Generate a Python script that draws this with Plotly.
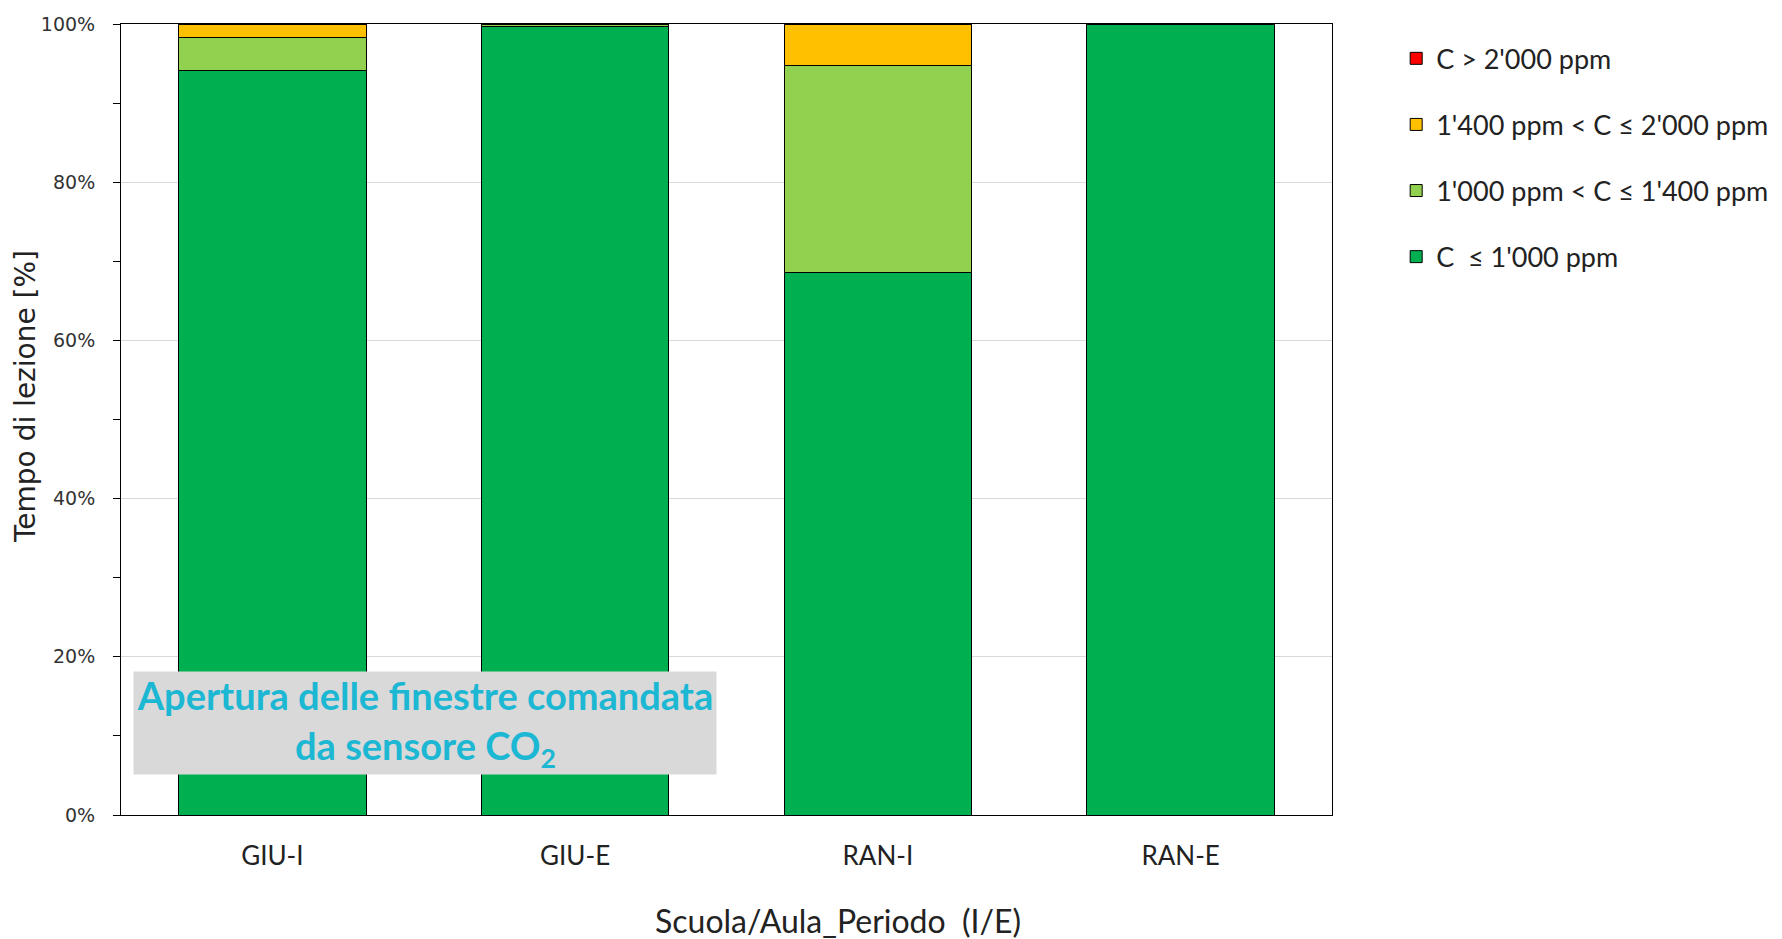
import plotly.graph_objects as go

# Share of lesson time in each CO2 concentration class
categories = ["GIU-I", "GIU-E", "RAN-I", "RAN-E"]
c_le_1000 = [94.1, 99.7, 68.6, 100.0]
c_1000_1400 = [4.2, 0.3, 26.2, 0.0]
c_1400_2000 = [1.7, 0.0, 5.2, 0.0]
c_gt_2000 = [0.0, 0.0, 0.0, 0.0]

series_names = [
    "C  \u2264 1'000 ppm",
    "1'000 ppm < C \u2264 1'400 ppm",
    "1'400 ppm < C \u2264 2'000 ppm",
    "C > 2'000 ppm",
]
series_values = [c_le_1000, c_1000_1400, c_1400_2000, c_gt_2000]
series_colors = ["#00b050", "#92d050", "#ffc000", "#ff0000"]

FONT = "Lato, 'Open Sans', sans-serif"
TICKFONT = "'DejaVu Sans', sans-serif"

# plot area in pixels
L, R, T, B = 121, 1332, 24, 815
W, H = 1782, 939

fig = go.Figure()
n = len(series_names)
for i, (name, vals, col) in enumerate(zip(series_names, series_values, series_colors)):
    fig.add_trace(go.Bar(
        x=categories,
        y=[v / 100 for v in vals],
        name=name,
        legendgroup=f"g{i}",
        legendrank=n - i,
        marker=dict(color=col, line=dict(color="black", width=1)),
    ))

fig.update_layout(
    barmode="stack",
    bargap=0.38,
    width=W,
    height=H,
    paper_bgcolor="white",
    plot_bgcolor="white",
    margin=dict(l=L, r=W - R, t=T, b=H - B, autoexpand=False),
    font=dict(family=FONT, color="#222222"),
    legend=dict(
        traceorder="grouped",
        x=1.053, y=0.987, xanchor="left", yanchor="top",
        font=dict(size=27, family=FONT, color="#222222"),
        tracegroupgap=28,
        itemwidth=30,
    ),
    xaxis=dict(
        showline=True, linecolor="black", linewidth=1, mirror=True,
        tickfont=dict(size=26, family=FONT),
        ticks="outside", ticklen=18, tickcolor="rgba(0,0,0,0)",
    ),
    yaxis=dict(
        range=[0, 1],
        tickformat=".0%",
        dtick=0.2,
        showgrid=True, gridcolor="#d9d9d9", gridwidth=1,
        showline=True, linecolor="black", linewidth=1, mirror=True,
        ticks="outside", ticklen=7, tickcolor="black",
        ticklabelstandoff=14,
        minor=dict(dtick=0.1, ticks="outside", ticklen=7, tickcolor="black", showgrid=False),
        tickfont=dict(size=19, family=TICKFONT, color="#333333"),
    ),
)

# axis titles
fig.add_annotation(
    xref="paper", yref="paper",
    x=(838 - L) / (R - L), y=(B - 920) / (B - T),
    xanchor="center", yanchor="middle",
    text="Scuola/Aula_Periodo  (I/E)", showarrow=False,
    font=dict(size=32, family=FONT, color="#222222"),
)
fig.add_annotation(
    xref="paper", yref="paper",
    x=(25 - L) / (R - L), y=(B - 397) / (B - T),
    xanchor="center", yanchor="middle",
    text="Tempo di lezione [%]", showarrow=False, textangle=-90,
    font=dict(size=28, family=TICKFONT, color="#222222"),
)

fig.add_annotation(
    xref="paper", yref="paper",
    x=(425 - L) / (R - L), y=(B - 723) / (B - T),
    xanchor="center", yanchor="middle",
    text="<b>Apertura delle finestre comandata<br>da sensore CO<sub>2</sub></b>",
    showarrow=False,
    font=dict(size=38, color="#1cb7d3", family=FONT),
    bgcolor="#d9d9d9",
    width=580, height=100,
    align="center",
)

fig.write_html("out.html")
